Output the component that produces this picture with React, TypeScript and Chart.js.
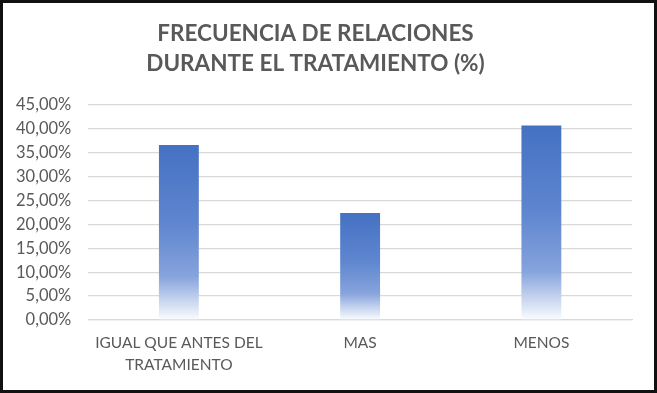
import React, { useEffect, useRef } from "react";
import { Chart, registerables } from "chart.js";

Chart.register(...registerables);

const titleLines = ["FRECUENCIA DE RELACIONES", "DURANTE EL TRATAMIENTO (%)"];
const categories: string[][] = [["IGUAL QUE ANTES DEL", "TRATAMIENTO"], ["MAS"], ["MENOS"]];
const values: number[] = [36.6, 22.4, 40.7];
const yMin = 0;
const yMax = 45;
const yStep = 5;

const FONT = "Lato, 'Open Sans', sans-serif";

export default function App() {
  const ref = useRef<HTMLCanvasElement | null>(null);

  useEffect(() => {
    if (!ref.current) return;
    const chart = new Chart(ref.current, {
      type: "bar",
      data: {
        labels: categories,
        datasets: [
          {
            data: values,
            backgroundColor: (ctx: any) => {
              const c = ctx.chart;
              const area = c.chartArea;
              if (!area || ctx.parsed == null) return "#4472C4";
              const ys = c.scales.y;
              const top = ys.getPixelForValue(ctx.parsed.y);
              const bottom = ys.getPixelForValue(0);
              const g = c.ctx.createLinearGradient(0, top, 0, bottom);
              g.addColorStop(0, "#4571c3");
              g.addColorStop(0.45, "#5f86cf");
              g.addColorStop(0.75, "#86a3dc");
              g.addColorStop(0.88, "#c3d2ee");
              g.addColorStop(1, "#fbfcfe");
              return g;
            },
            borderWidth: 0,
            categoryPercentage: 1,
            barPercentage: 0.22,
          },
        ],
      },
      options: {
        animation: false,
        responsive: false,
        maintainAspectRatio: false,
        layout: { padding: { left: -4, right: 22, top: 4, bottom: 10 } },
        plugins: {
          legend: { display: false },
          tooltip: { enabled: false },
          title: {
            display: true,
            text: titleLines,
            color: "#595959",
            font: { family: FONT, size: 22.5, weight: "bold", lineHeight: 1.33 },
            padding: { top: 12, bottom: 26 },
          },
        },
        scales: {
          x: {
            grid: { display: false },
            border: { display: true, color: "#d9d9d9", width: 1.3 },
            ticks: {
              color: "#595959",
              font: { family: FONT, size: 15.5, lineHeight: 1.42 },
              maxRotation: 0,
              minRotation: 0,
              padding: 4,
              autoSkip: false,
            },
          },
          y: {
            min: yMin,
            max: yMax,
            ticks: {
              stepSize: yStep,
              color: "#595959",
              font: { family: FONT, size: 16.5 },
              padding: 17,
              callback: (v: any) => Number(v).toFixed(2).replace(".", ",") + "%",
            },
            grid: { color: "#d9d9d9", lineWidth: 1.3, drawTicks: false },
            border: { display: false },
          },
        },
      },
    });
    return () => chart.destroy();
  }, []);

  return (
    <div
      style={{
        position: "fixed",
        left: 0,
        top: 0,
        width: 657,
        height: 393,
        boxSizing: "border-box",
        border: "3px solid #111",
        background: "#fff",
      }}
    >
      <canvas ref={ref} width={651} height={387} style={{ display: "block" }} />
    </div>
  );
}
